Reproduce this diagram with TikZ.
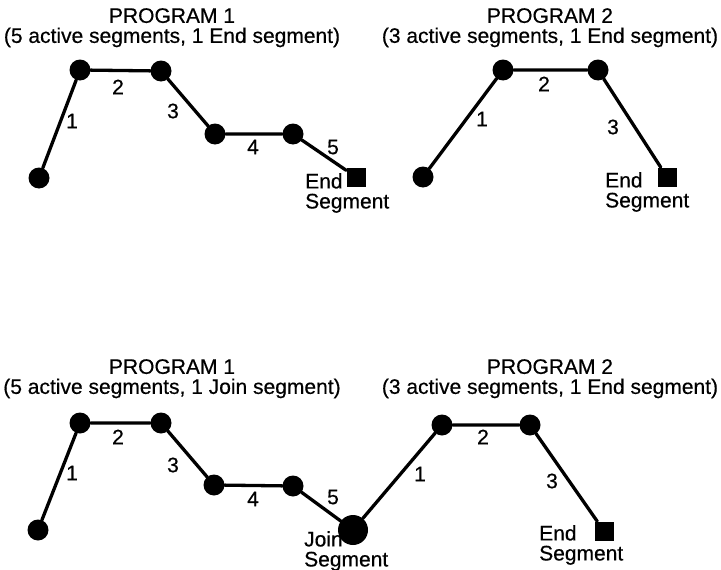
\documentclass[tikz,border=0pt]{standalone}
\usepackage{fontspec}
\setmainfont{Liberation Sans}
\newfontfamily\labfont{Liberation Sans}[FakeBold=0.5]

\begin{document}
\begin{tikzpicture}[line cap=round,line join=round,x=1pt,y=-1pt,
  seg/.style={line width=3.3pt},
  dot/.style={circle,fill,inner sep=0pt,minimum size=21pt},
  joindot/.style={circle,fill,inner sep=0pt,minimum size=30pt},
  endbox/.style={rectangle,fill,inner sep=0pt,minimum size=19pt},
  lab/.style={inner sep=0pt,font=\labfont\fontsize{21}{20}\selectfont},
  ttl/.style={lab,align=center,anchor=north},
  segtxt/.style={lab,align=left,anchor=north west}]
\useasboundingbox (0,0) rectangle (721,570);
%
% top: program 1 alone
\node[ttl] (ttlA) at (172,8) {PROGRAM 1\\(5 active segments, 1 End segment)};
\node[dot] (a0) at (39,178) {};
\node[dot] (a1) at (80,70) {};
\node[dot] (a2) at (161,71) {};
\node[dot] (a3) at (215,134) {};
\node[dot] (a4) at (293,134) {};
\node[endbox] (aend) at (356,177) {};
\draw[seg] (a0) -- (a1) -- (a2) -- (a3) -- (a4) -- (aend);
\node[lab] (la1) at (72,121) {1};
\node[lab] (la2) at (118,87) {2};
\node[lab] (la3) at (173,111) {3};
\node[lab] (la4) at (253,147) {4};
\node[lab] (la5) at (333,147) {5};
\node[segtxt] (atxt) at (305,173) {End\\Segment};
%
% top: program 2 alone
\node[ttl] (ttlB) at (550,8) {PROGRAM 2\\(3 active segments, 1 End segment)};
\node[dot] (b0) at (423,177) {};
\node[dot] (b1) at (503,70) {};
\node[dot] (b2) at (598,70) {};
\node[endbox] (bend) at (667,177) {};
\draw[seg] (b0) -- (b1) -- (b2) -- (bend);
\node[lab] (lb1) at (482,119) {1};
\node[lab] (lb2) at (544,84) {2};
\node[lab] (lb3) at (613,127) {3};
\node[segtxt] (btxt) at (605,172) {End\\Segment};
%
% bottom: program 1 joined to program 2
\begin{scope}[shift={(0,352)}]
\node[ttl] (ttlC) at (172,7) {PROGRAM 1\\(5 active segments, 1 Join segment)};
\node[dot] (c0) at (38,178) {};
\node[dot] (c1) at (80,71) {};
\node[dot] (c2) at (161,71) {};
\node[dot] (c3) at (214,133) {};
\node[dot] (c4) at (293,134) {};
\node[joindot] (join) at (353,178) {};
\draw[seg] (c0) -- (c1) -- (c2) -- (c3) -- (c4) -- (join);
\node[lab] (lc1) at (72,121) {1};
\node[lab] (lc2) at (118,85) {2};
\node[lab] (lc3) at (173,113) {3};
\node[lab] (lc4) at (253,147) {4};
\node[lab] (lc5) at (333,145) {5};
\node[segtxt] (jtxt) at (304,179) {Join\\Segment};
\end{scope}
%
\node[ttl] (ttlD) at (550,359) {PROGRAM 2\\(3 active segments, 1 End segment)};
\node[dot] (d1) at (442,425) {};
\node[dot] (d2) at (530,425) {};
\node[endbox] (dend) at (604,531) {};
\draw[seg] (join) -- (d1) -- (d2) -- (dend);
\node[lab] (ld1) at (420,474) {1};
\node[lab] (ld2) at (483,437) {2};
\node[lab] (ld3) at (552,481) {3};
\node[segtxt] (dtxt) at (539,525) {End\\Segment};
\end{tikzpicture}
\end{document}
